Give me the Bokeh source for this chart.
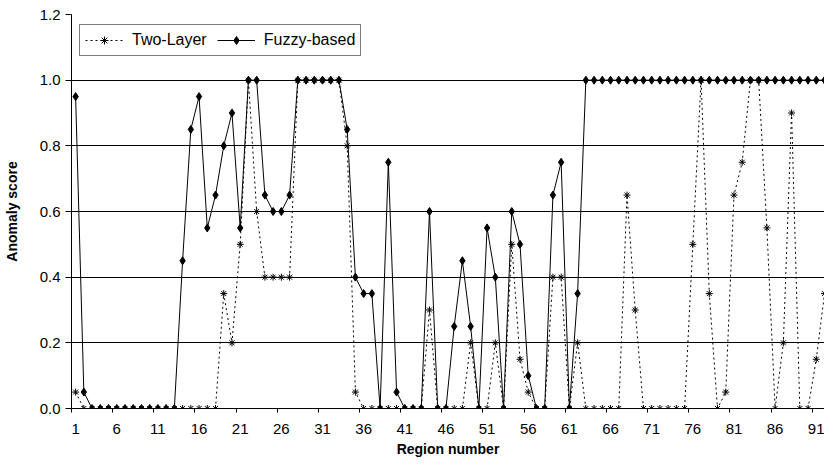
from bokeh.plotting import figure
from bokeh.models import FixedTicker, Grid, Legend, LegendItem, PrintfTickFormatter, Range1d
from bokeh.embed import file_html
from bokeh.resources import INLINE

# ---- data ----
regions = list(range(1, 93))

two_layer = [
    0.05, 0, 0, 0, 0, 0, 0, 0, 0, 0,          # 1-10
    0, 0, 0, 0, 0, 0, 0, 0, 0.35, 0.2,        # 11-20
    0.5, 1.0, 0.6, 0.4, 0.4, 0.4, 0.4, 1.0, 1.0, 1.0,  # 21-30
    1.0, 1.0, 1.0, 0.8, 0.05, 0, 0, 0, 0, 0,  # 31-40
    0, 0, 0, 0.3, 0, 0, 0, 0, 0.2, 0,         # 41-50
    0, 0.2, 0, 0.5, 0.15, 0.05, 0, 0, 0.4, 0.4,  # 51-60
    0, 0.2, 0, 0, 0, 0, 0, 0.65, 0.3, 0,      # 61-70
    0, 0, 0, 0, 0, 0.5, 1.0, 0.35, 0, 0.05,   # 71-80
    0.65, 0.75, 1.0, 1.0, 0.55, 0, 0.2, 0.9, 0, 0,  # 81-90
    0.15, 0.35,                               # 91-92
]

fuzzy = [
    0.95, 0.05, 0, 0, 0, 0, 0, 0, 0, 0,       # 1-10
    0, 0, 0, 0.45, 0.85, 0.95, 0.55, 0.65, 0.8, 0.9,  # 11-20
    0.55, 1.0, 1.0, 0.65, 0.6, 0.6, 0.65, 1.0, 1.0, 1.0,  # 21-30
    1.0, 1.0, 1.0, 0.85, 0.4, 0.35, 0.35, 0, 0.75, 0.05,  # 31-40
    0, 0, 0, 0.6, 0, 0, 0.25, 0.45, 0.25, 0,  # 41-50
    0.55, 0.4, 0, 0.6, 0.5, 0.1, 0, 0, 0.65, 0.75,  # 51-60
    0, 0.35, 1.0, 1.0, 1.0, 1.0, 1.0, 1.0, 1.0, 1.0,  # 61-70
    1.0, 1.0, 1.0, 1.0, 1.0, 1.0, 1.0, 1.0, 1.0, 1.0,  # 71-80
    1.0, 1.0, 1.0, 1.0, 1.0, 1.0, 1.0, 1.0, 1.0, 1.0,  # 81-90
    1.0, 1.0,                                 # 91-92
]

x_tick_labels = [1, 6, 11, 16, 21, 26, 31, 36, 41, 46, 51, 56, 61, 66, 71, 76, 81, 86, 91]
y_ticks = [0.0, 0.2, 0.4, 0.6, 0.8, 1.0, 1.2]

FONT = "Liberation Sans"

p = figure(width=824, height=464, output_backend="svg", toolbar_location=None,
           x_range=Range1d(0.5, 92.0), y_range=Range1d(0, 1.2),
           min_border_left=70, min_border_top=14, min_border_bottom=56, min_border_right=0)
p.outline_line_color = None
p.background_fill_color = "white"
p.border_fill_color = "white"

# grid
p.xgrid.visible = False
p.ygrid.ticker = FixedTicker(ticks=y_ticks[:-1])
p.ygrid.grid_line_color = "black"
p.ygrid.grid_line_width = 1
p.add_layout(Grid(dimension=1, ticker=FixedTicker(ticks=y_ticks[-1:]),
                  grid_line_color="#808080", grid_line_width=1))

# x axis
xa = p.xaxis[0]
xa.ticker = FixedTicker(ticks=x_tick_labels, minor_ticks=[t - 0.5 for t in x_tick_labels])
xa.major_tick_in = 0
xa.major_tick_out = 0
xa.minor_tick_in = 0
xa.minor_tick_out = 4
xa.minor_tick_line_color = "black"
xa.axis_line_color = "black"
xa.major_label_standoff = 11
xa.major_label_text_font = FONT
xa.major_label_text_font_size = "15px"
xa.major_label_text_color = "black"
xa.axis_label = "Region number"
xa.axis_label_text_font = FONT
xa.axis_label_text_font_size = "14px"
xa.axis_label_text_font_style = "bold"
xa.axis_label_text_color = "black"
xa.axis_label_standoff = 4

# y axis
ya = p.yaxis[0]
ya.ticker = FixedTicker(ticks=y_ticks)
ya.formatter = PrintfTickFormatter(format="%.1f")
ya.major_tick_in = 0
ya.major_tick_out = 6
ya.major_tick_line_color = "black"
ya.minor_tick_line_color = None
ya.axis_line_color = "black"
ya.major_label_standoff = 5
ya.major_label_text_font = FONT
ya.major_label_text_font_size = "15px"
ya.major_label_text_color = "black"
ya.axis_label = "Anomaly score"
ya.axis_label_text_font = FONT
ya.axis_label_text_font_size = "14px"
ya.axis_label_text_font_style = "bold"
ya.axis_label_text_color = "black"
ya.axis_label_standoff = 17

# series
l1 = p.line(regions, two_layer, line_color="black", line_width=1, line_dash="2 3")
m1 = p.scatter(regions, two_layer, marker="asterisk", size=7, line_color="black", line_width=1)
l2 = p.line(regions, fuzzy, line_color="black", line_width=1)
m2 = p.scatter(regions, fuzzy, marker="diamond", size=8, fill_color="black", line_color="black")

legend = Legend(items=[LegendItem(label="Two-Layer", renderers=[l1, m1]),
                       LegendItem(label="Fuzzy-based", renderers=[l2, m2])],
                orientation="horizontal", location=(8, 352),
                padding=5, spacing=10, label_standoff=9, margin=0,
                glyph_width=38, glyph_height=20, label_height=20,
                label_text_font=FONT, label_text_font_size="16px", label_text_color="black",
                border_line_color="black", border_line_width=1,
                background_fill_color="white", background_fill_alpha=1.0)
p.add_layout(legend)

open("out.html", "w").write(file_html(p, INLINE))
